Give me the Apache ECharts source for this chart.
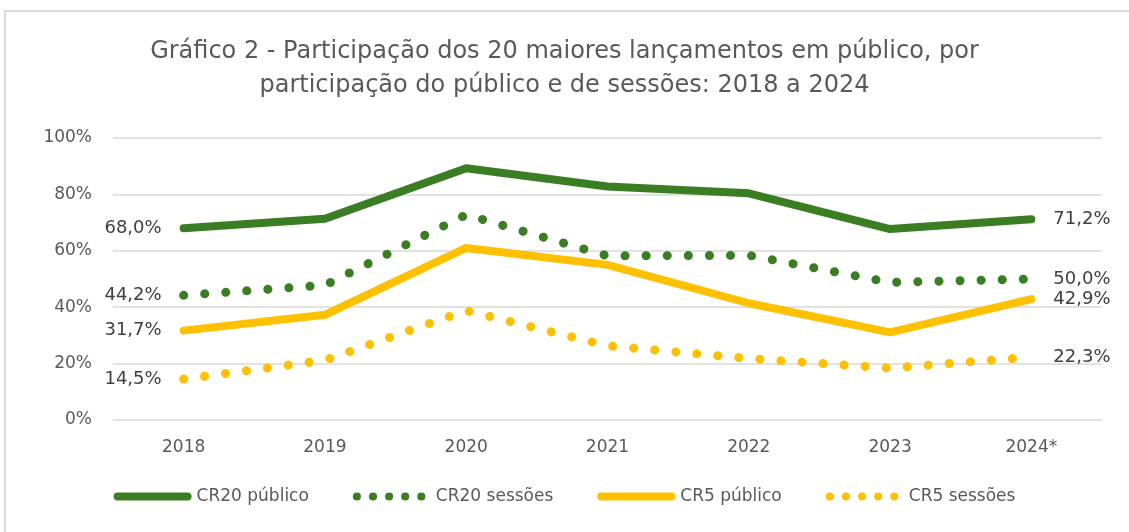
<!DOCTYPE html>
<html><head><meta charset="utf-8">
<script src="https://cdn.jsdelivr.net/npm/echarts@6/dist/echarts.min.js"></script>
<style>html,body{margin:0;padding:0;background:#fff}#c{width:1129px;height:532px}
#frame{position:absolute;left:4px;top:10px;width:1140px;height:540px;border:2px solid #d9d9d9;box-sizing:border-box;pointer-events:none}</style>
</head><body><div id="c"></div><div id="frame"></div>
<script>
const categories = ['2018','2019','2020','2021','2022','2023','2024*'];
const cr20Publico = [68.0, 71.4, 89.3, 82.8, 80.4, 67.7, 71.2];
const cr20Sessoes = [44.2, 47.8, 72.8, 58.2, 58.4, 48.8, 50.0];
const cr5Publico  = [31.7, 37.3, 61.0, 55.0, 41.4, 31.1, 42.9];
const cr5Sessoes  = [14.5, 21.2, 38.8, 26.3, 21.8, 18.4, 22.3];
const yTicks = [0, 20, 40, 60, 80, 100];

const green = '#3b7d23', yellow = '#ffc000', txt = '#595959', lbl = '#404040';
const font = 'DejaVu Sans';
function fmt(v){ return v.toFixed(1).replace('.', ',') + '%'; }
function mkSeries(name, data, color, dotted){
  const n = data.length;
  return {
    name, type: 'line', data: data.map((v, i) => {
      const o = { value: v };
      if (i === 0) o.label = { show: true, position: 'left', distance: 22 };
      if (i === n - 1) o.label = { show: true, position: 'right', distance: 22 };
      return o;
    }),
    symbol: 'circle', symbolSize: 0.01, showSymbol: true, z: dotted ? 2 : 3,
    lineStyle: dotted
      ? { color, width: 9, type: [0.1, 21], cap: 'round', join: 'round' }
      : { color, width: 8, cap: 'round', join: 'round' },
    itemStyle: { color },
    label: { show: false, color: lbl, fontSize: 18, fontFamily: font, formatter: p => fmt(p.value) },
    emphasis: { disabled: true }, animation: false
  };
}
const chart = echarts.init(document.getElementById('c'), null, { renderer: 'canvas' });
chart.setOption({
  backgroundColor: '#fff',
  animation: false,
  title: {
    text: 'Gráfico 2 - Participação dos 20 maiores lançamentos em público, por\nparticipação do público e de sessões: 2018 a 2024',
    left: 'center', top: 30,
    textStyle: { fontFamily: font, fontSize: 24, fontWeight: 'normal', color: txt, lineHeight: 34 }
  },
  grid: { left: 113, right: 27, top: 138, bottom: 112, containLabel: false },
  xAxis: {
    type: 'category', data: categories, boundaryGap: true,
    axisLine: { show: false }, axisTick: { show: false },
    axisLabel: { color: txt, fontSize: 17, fontFamily: font, margin: 19 }
  },
  yAxis: {
    type: 'value', min: 0, max: 100, interval: 20,
    axisLine: { show: false }, axisTick: { show: false },
    splitLine: { lineStyle: { color: '#d9d9d9', width: 1.5 } },
    axisLabel: { color: txt, fontSize: 17, fontFamily: font, margin: 21, formatter: v => yTicks.includes(v) ? v + '%' : '' }
  },
  legend: {
    bottom: 22, left: 'center', itemWidth: 70, itemHeight: 10, itemGap: 44,
    itemStyle: { opacity: 0 },
    lineStyle: { width: 8, cap: 'round' },
    textStyle: { color: txt, fontSize: 17, fontFamily: font, padding: [0, 0, 0, 4] },
    data: [
      { name: 'CR20 público' },
      { name: 'CR20 sessões', lineStyle: { type: [0.1, 16], cap: 'round', width: 8 } },
      { name: 'CR5 público' },
      { name: 'CR5 sessões', lineStyle: { type: [0.1, 16], cap: 'round', width: 8 } }
    ]
  },
  series: [
    mkSeries('CR20 sessões', cr20Sessoes, green, true),
    mkSeries('CR5 sessões', cr5Sessoes, yellow, true),
    mkSeries('CR20 público', cr20Publico, green, false),
    mkSeries('CR5 público', cr5Publico, yellow, false)
  ]
});
</script></body></html>
